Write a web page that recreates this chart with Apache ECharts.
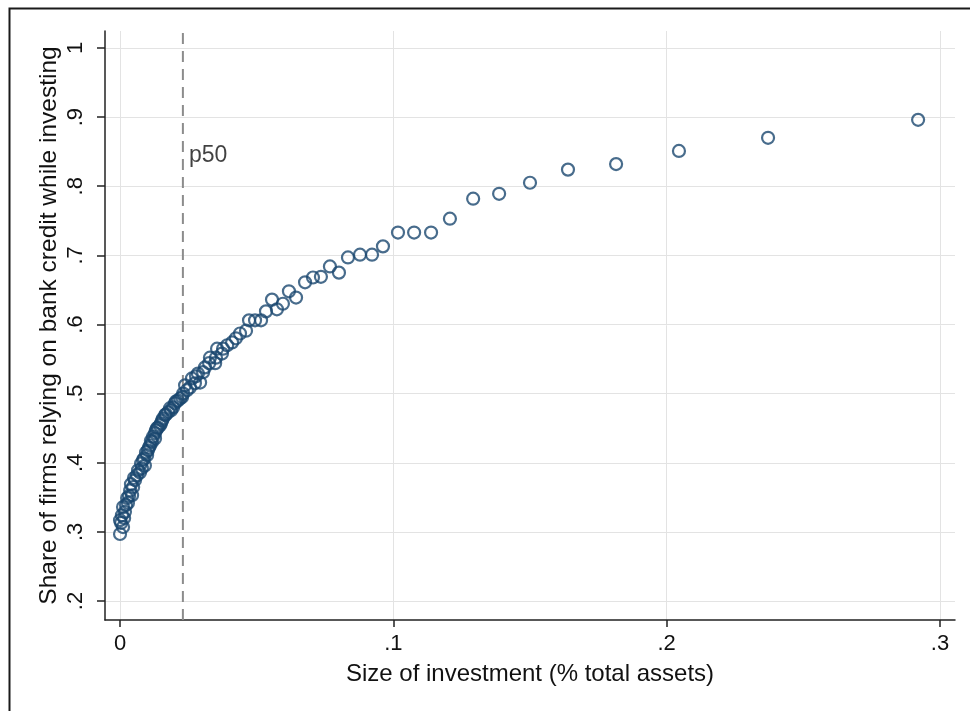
<!DOCTYPE html>
<html>
<head>
<meta charset="utf-8">
<script src="https://cdn.jsdelivr.net/npm/echarts@6/dist/echarts.min.js"></script>
<style>
  html, body { margin: 0; padding: 0; background: #fff; }
  #chart { width: 970px; height: 711px; }
</style>
</head>
<body>
<div id="chart"></div>
<script>
// binned points: investment size (share of total assets) and share relying on bank credit
var invSize = [
    0.0000, 0.0004, 0.0011, 0.0000, 0.0015, 0.0007, 0.0018, 0.0011, 0.0022, 0.0029,
    0.0026, 0.0033, 0.0044, 0.0037, 0.0048, 0.0040, 0.0051, 0.0055, 0.0062, 0.0066,
    0.0073, 0.0080, 0.0091, 0.0077, 0.0084, 0.0088, 0.0099, 0.0095, 0.0102, 0.0106,
    0.0110, 0.0117, 0.0113, 0.0121, 0.0128, 0.0128, 0.0132, 0.0135, 0.0139, 0.0146,
    0.0150, 0.0154, 0.0157, 0.0165, 0.0168, 0.0176, 0.0183, 0.0187, 0.0194, 0.0201,
    0.0205, 0.0212, 0.0220, 0.0227, 0.0231, 0.0238, 0.0245, 0.0256, 0.0263, 0.0274,
    0.0278, 0.0285, 0.0293, 0.0304, 0.0311, 0.0326, 0.0348, 0.0329, 0.0351, 0.0373,
    0.0355, 0.0377, 0.0392, 0.0410, 0.0424, 0.0439, 0.0461, 0.0472, 0.0494, 0.0516,
    0.0534, 0.0556, 0.0574, 0.0596, 0.0618, 0.0644, 0.0677, 0.0706, 0.0735, 0.0768,
    0.0801, 0.0834, 0.0878, 0.0922, 0.0962, 0.1017, 0.1076, 0.1138, 0.1207, 0.1292,
    0.1387, 0.1500, 0.1639, 0.1815, 0.2045, 0.2371, 0.2920
];
var bankShare = [
    0.297, 0.313, 0.307, 0.317, 0.320, 0.324, 0.329, 0.336, 0.339, 0.342,
    0.349, 0.352, 0.353, 0.360, 0.365, 0.369, 0.378, 0.375, 0.382, 0.389,
    0.386, 0.392, 0.396, 0.399, 0.404, 0.406, 0.411, 0.415, 0.418, 0.422,
    0.425, 0.430, 0.432, 0.438, 0.435, 0.443, 0.447, 0.450, 0.451, 0.454,
    0.457, 0.461, 0.464, 0.469, 0.470, 0.473, 0.479, 0.476, 0.480, 0.486,
    0.489, 0.490, 0.493, 0.495, 0.500, 0.512, 0.505, 0.509, 0.522, 0.515,
    0.525, 0.529, 0.516, 0.531, 0.538, 0.544, 0.544, 0.552, 0.552, 0.558,
    0.565, 0.565, 0.570, 0.574, 0.580, 0.587, 0.591, 0.606, 0.606, 0.606,
    0.619, 0.636, 0.622, 0.630, 0.648, 0.639, 0.661, 0.668, 0.669, 0.684,
    0.675, 0.697, 0.701, 0.701, 0.713, 0.733, 0.733, 0.733, 0.753, 0.782,
    0.789, 0.805, 0.824, 0.832, 0.851, 0.870, 0.896
];
var xTicks = [0, 0.1, 0.2, 0.3];
var yTicks = [0.2, 0.3, 0.4, 0.5, 0.6, 0.7, 0.8, 0.9, 1];
var xRange = [-0.0055, 0.3055];
var yRange = [0.1726, 1.0245];
var medianSize = 0.023;
var medianLabel = 'p50';
var medianLabelY = 0.844;

function stataLabel(v) {
    if (v === 0) return '0';
    if (v === 1) return '1';
    return String(Math.round(v * 10) / 10).replace(/^0/, '');
}

var points = [];
for (var i = 0; i < invSize.length; i++) {
    points.push([invSize[i], bankShare[i]]);
}

var myChart = echarts.init(document.getElementById('chart'));

var option = {
    backgroundColor: '#fff',
    animation: false,
    textStyle: {
        fontFamily: 'Liberation Sans, Arial, sans-serif'
    },
    graphic: [{
        type: 'rect',
        left: 7,
        top: 6,
        shape: { width: 1000, height: 800 },
        style: { fill: 'none', stroke: '#1a1a1a', lineWidth: 2 },
        silent: true
    }],
    grid: {
        left: 105,
        right: 15,
        top: 31,
        bottom: 91
    },
    xAxis: {
        type: 'value',
        min: xRange[0],
        max: xRange[1],
        name: 'Size of investment (% total assets)',
        nameLocation: 'middle',
        nameGap: 42,
        nameTextStyle: { fontSize: 24, color: '#111' },
        axisLine: { show: true, onZero: false, lineStyle: { color: '#222', width: 1.5 } },
        axisTick: {
            show: true,
            length: 7,
            customValues: xTicks,
            lineStyle: { color: '#222', width: 1.5 }
        },
        axisLabel: {
            customValues: xTicks,
            fontSize: 22,
            color: '#111',
            margin: 13,
            formatter: stataLabel
        },
        splitLine: { show: true, lineStyle: { color: '#e3e3e3', width: 1 } }
    },
    yAxis: {
        type: 'value',
        min: yRange[0],
        max: yRange[1],
        name: 'Share of firms relying on bank credit while investing',
        nameLocation: 'middle',
        nameGap: 43,
        nameMoveOverlap: false,
        nameTextStyle: { fontSize: 24.5, color: '#111' },
        axisLine: { show: true, onZero: false, lineStyle: { color: '#222', width: 1.5 } },
        axisTick: {
            show: true,
            length: 8,
            customValues: yTicks,
            lineStyle: { color: '#222', width: 1.5 }
        },
        axisLabel: {
            customValues: yTicks,
            fontSize: 22,
            color: '#111',
            rotate: 90,
            margin: 18,
            formatter: stataLabel
        },
        splitLine: { show: true, lineStyle: { color: '#e3e3e3', width: 1 } }
    },
    series: [{
        name: 'p50 line',
        type: 'line',
        data: [[medianSize, yRange[0]], [medianSize, yRange[1]]],
        symbol: 'none',
        silent: true,
        lineStyle: { color: '#8c8c8c', type: [11, 7], width: 2 },
        z: 2
    }, {
        name: 'binned share',
        type: 'scatter',
        data: points,
        symbol: 'circle',
        symbolSize: 12,
        itemStyle: {
            color: 'rgba(255,255,255,0)',
            borderColor: '#1a476f',
            borderWidth: 2.2
        },
        z: 3
    }, {
        name: 'median label',
        type: 'scatter',
        data: [[medianSize, medianLabelY]],
        symbolSize: 0,
        silent: true,
        label: {
            show: true,
            position: 'right',
            distance: 6,
            formatter: medianLabel,
            fontSize: 23,
            color: '#111'
        }
    }]
};

myChart.setOption(option);
</script>
</body>
</html>
